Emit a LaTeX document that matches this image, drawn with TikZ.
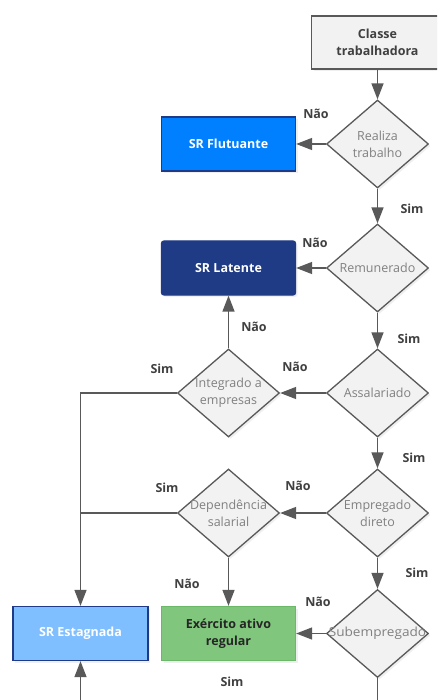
\documentclass[tikz,border=0pt]{standalone}
\usepackage{fontspec}
\setmainfont{Open Sans}
\usetikzlibrary{arrows.meta,shapes.geometric,shadows}
\definecolor{linec}{HTML}{595959}
\definecolor{boxfill}{HTML}{F2F2F2}
\definecolor{dtext}{HTML}{808080}
\definecolor{labc}{HTML}{404040}
\definecolor{navy}{HTML}{1F3A87}
\definecolor{flutc}{HTML}{007FFF}
\definecolor{latc}{HTML}{203B86}
\definecolor{estc}{HTML}{80BFFF}
\definecolor{exec}{HTML}{80C67C}
\definecolor{exeb}{HTML}{6BB868}
\tikzset{
  base/.style={font=\fontsize{12.5}{17}\selectfont, align=center, inner sep=0pt},
  shad/.style={drop shadow={opacity=0.12, shadow xshift=2pt, shadow yshift=-2pt}},
  rbox/.style={base, rectangle, minimum width=134pt, minimum height=54pt, line width=1.3pt, shad},
  dia/.style={base, diamond, minimum width=102pt, minimum height=88pt, fill=boxfill, draw=linec, line width=1.3pt, shad},
  dlab/.style={base, text=dtext},
  conn/.style={draw=linec, line width=1.4pt},
  arr/.style={conn, -{Triangle[length=16pt,width=12pt]}},
  lab/.style={base, font=\fontsize{12.5}{17}\selectfont\bfseries, text=labc},
}
\begin{document}
\begin{tikzpicture}[x=1pt,y=-1pt]
\path[use as bounding box, clip] (0,0) rectangle (437,700);
\fill[white] (0,0) rectangle (437,700);

% nodes
\node[rbox, fill=boxfill, draw=linec, minimum width=132pt, minimum height=53pt, text=labc, font=\fontsize{12.5}{17}\selectfont\bfseries] (cls) at (377.5,42.5) {Classe\\trabalhadora};
\node[dia] (d1) at (377.5,144) {};
\node[dlab] at (d1.center) {Realiza\\trabalho};
\node[rbox, fill=flutc, draw=navy, text=white, font=\fontsize{12.5}{17}\selectfont\bfseries] (flut) at (228.5,144) {SR Flutuante};

\node[dia] (d2) at (377.5,268) {};
\node[dlab] at (d2.center) {Remunerado};
\node[rbox, fill=latc, draw=latc, rounded corners=2.5pt, text=white, font=\fontsize{12.5}{17}\selectfont\bfseries] (lat) at (228.5,268) {SR Latente};

\node[dia] (d3) at (377.5,393) {};
\node[dlab] at (d3.center) {Assalariado};
\node[dia] (d4) at (228.5,393) {};
\node[dlab] at (d4.center) {Integrado a\\empresas};

\node[dia] (d5) at (377.5,513) {};
\node[dlab] at (d5.center) {Empregado\\direto};
\node[dia] (d6) at (228.5,513) {};
\node[dlab] at (d6.center) {Dependência\\salarial};

\node[dia] (d7) at (377.5,633.5) {};
\node[dlab] at (d7.center) {\scalebox{1.09}[1]{Subempregado}};
\node[rbox, fill=exec, draw=exeb, text=black!85, font=\fontsize{12.5}{17}\selectfont\bfseries] (exe) at (228.5,633.5) {Exército ativo\\regular};
\node[rbox, fill=estc, draw=navy, minimum width=135pt, text=white, font=\fontsize{12.5}{17}\selectfont\bfseries] (est) at (80.5,633.5) {SR Estagnada};

% coordinates
\coordinate (j1) at (80.5,393);
\coordinate (j2) at (80.5,513);
\coordinate (b1) at (377.5,710);
\coordinate (b2) at (80.5,710);

% connectors
\draw[arr] (cls.south) -- (d1.north);
\draw[arr] (d1.west) -- (flut.east);
\draw[arr] (d1.south) -- (d2.north);
\draw[arr] (d2.west) -- (lat.east);
\draw[arr] (d2.south) -- (d3.north);
\draw[arr] (d3.west) -- (d4.east);
\draw[arr] (d4.north) -- (lat.south);
\draw[arr] (d4.west) -- (j1) -- (est.north);
\draw[arr] (d3.south) -- (d5.north);
\draw[arr] (d5.west) -- (d6.east);
\draw[conn] (d6.west) -- (j2);
\draw[arr] (d6.south) -- (exe.north);
\draw[arr] (d5.south) -- (d7.north);
\draw[arr] (d7.west) -- (exe.east);
\draw[conn] (d7.south) -- (b1);
\draw[arr] (b2) -- (est.south);

% labels
\node[lab] at (316,114) {Não};
\node[lab] at (412,209) {Sim};
\node[lab] at (315,243) {Não};
\node[lab] at (409,339) {Sim};
\node[lab] at (295,367) {Não};
\node[lab] at (254,327) {Não};
\node[lab] at (162,369) {Sim};
\node[lab] at (414,458) {Sim};
\node[lab] at (298,486) {Não};
\node[lab] at (167,488) {Sim};
\node[lab] at (187,584) {Não};
\node[lab] at (417,573) {Sim};
\node[lab] at (318,602) {Não};
\node[lab] at (232,682) {Sim};
\end{tikzpicture}
\end{document}
